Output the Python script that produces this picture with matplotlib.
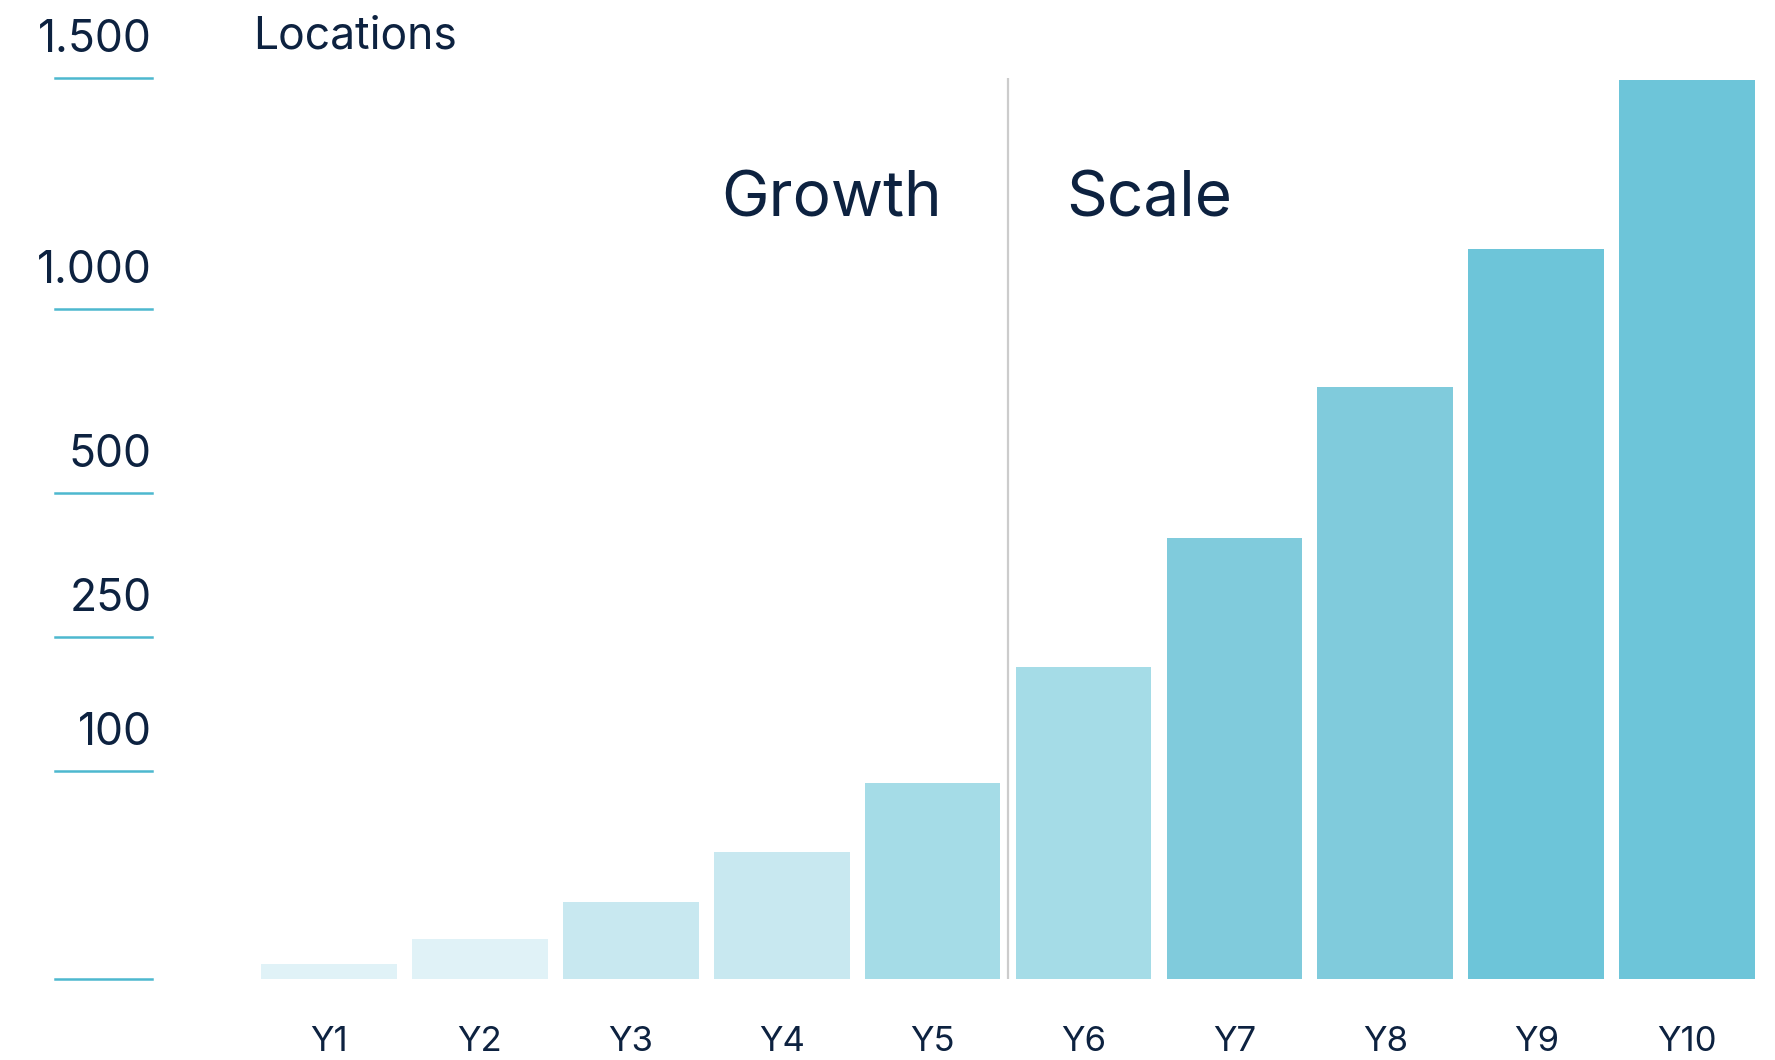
import numpy as np
import matplotlib
matplotlib.use('Agg')
from matplotlib import pyplot as plt
from matplotlib import transforms

# data
years = ['Y1', 'Y2', 'Y3', 'Y4', 'Y5', 'Y6', 'Y7', 'Y8', 'Y9', 'Y10']
locations = [7, 19, 37, 61, 94, 216, 422, 788, 1130, 1496]
bar_colors = ['#E0F2F7', '#E0F2F7', '#C8E8F0', '#C8E8F0', '#A5DCE7',
              '#A5DCE7', '#80CBDC', '#80CBDC', '#6DC5D9', '#6DC5D9']
tick_values = [0, 100, 250, 500, 1000, 1500]
tick_labels = ['', '100', '250', '500', '1.000', '1.500']
# uneven tick spacing of the original axis (relative screen height of each tick)
tick_heights = [0, 208, 342, 486, 670, 901]

TEXT = '#0D2240'
TICK = '#4DB8CF'

plt.rcParams['font.family'] = ['Inter', 'DejaVu Sans']


def forward(v):
    return np.interp(v, tick_values, tick_heights)


def inverse(p):
    return np.interp(p, tick_heights, tick_values)


fig = plt.figure(figsize=(17.75, 10.6), dpi=100)
ax = fig.add_axes([0.1408, 0.0764, 0.8592, 0.85])
ax.set_yscale('function', functions=(forward, inverse))

x = np.arange(len(years))
ax.bar(x, locations, width=0.9, color=bar_colors, zorder=2)
ax.set_xlim(-0.5235, 9.582)
ax.set_ylim(0, 1500)

# growth / scale divider
ax.plot([4.5, 4.5], [0, 1500], color='#CCCCCC', lw=1.6, zorder=1)
fig.text(0.5307, 0.796, 'Growth', fontsize=46, color=TEXT, ha='right', va='baseline')
fig.text(0.6006, 0.796, 'Scale', fontsize=46, color=TEXT, ha='left', va='baseline')

# y "axis": short coloured lines with the value sitting above
for s in ax.spines.values():
    s.set_visible(False)
ax.set_yticks([])
trans = transforms.blended_transform_factory(fig.transFigure, ax.transData)
for v, lab in zip(tick_values, tick_labels):
    ax.plot([0.031, 0.0856], [v, v], color=TICK, lw=1.8, transform=trans, clip_on=False)
    if lab:
        ax.annotate(lab, xy=(0.0855, v), xycoords=trans, xytext=(0, 19),
                    textcoords='offset points', ha='right', va='baseline',
                    fontsize=32, color=TEXT)
ax.annotate('Locations', xy=(0.1425, 1500), xycoords=trans, xytext=(0, 21),
            textcoords='offset points', ha='left', va='baseline',
            fontsize=32, color=TEXT)

ax.set_xticks(x)
ax.set_xticklabels(years, fontsize=25, color=TEXT)
for t in ax.get_xticklabels():
    t.set_va('baseline')
ax.tick_params(axis='x', length=0, pad=52)

fig.savefig('out.png', dpi=100, facecolor='white')
